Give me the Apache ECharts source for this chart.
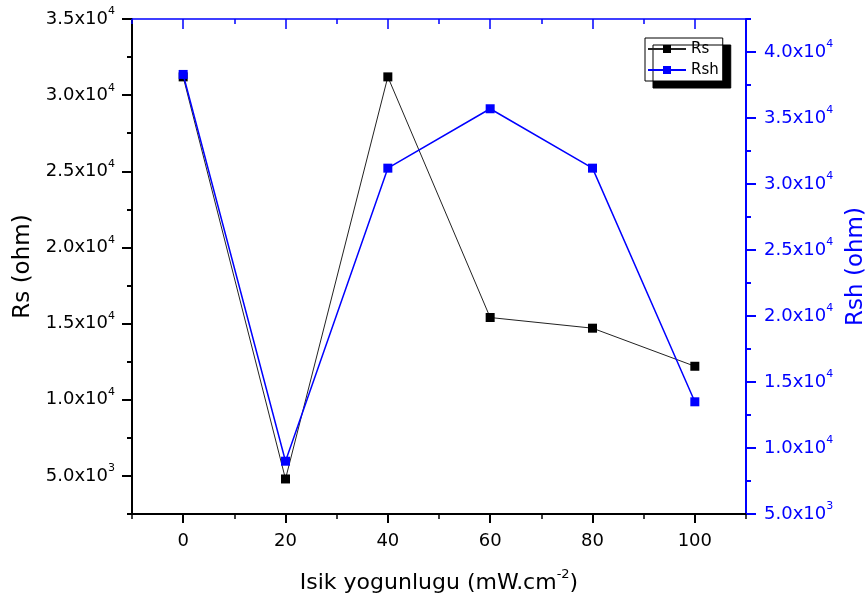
<!DOCTYPE html>
<html>
<head>
<meta charset="utf-8">
<script src="https://cdn.jsdelivr.net/npm/echarts@6/dist/echarts.min.js"></script>
<style>
html,body{margin:0;padding:0;background:#fff;}
#c{width:867px;height:599px;}
</style>
</head>
<body>
<div id="c"></div>
<script>
// ---- data ----
var xValues = [0, 20, 40, 60, 80, 100];
var rsValues = [31200, 4800, 31200, 15400, 14700, 12200];
var rshValues = [38300, 9000, 31200, 35700, 31200, 13500];
var seriesNames = ['Rs', 'Rsh'];
var xTicks = [0, 20, 40, 60, 80, 100];
var leftTicks = [5000, 10000, 15000, 20000, 25000, 30000, 35000];
var rightTicks = [5000, 10000, 15000, 20000, 25000, 30000, 35000, 40000];
var xTitle = 'Isik yogunlugu (mW.cm';
var xTitleSup = '-2';
var leftTitle = 'Rs (ohm)';
var rightTitle = 'Rsh (ohm)';

var FONT = 'DejaVu Sans';
var BLUE = '#0000ff';

function sciFmt(v) {
  var e = Math.floor(Math.log10(v));
  var m = (v / Math.pow(10, e)).toFixed(1);
  return '{b|' + m + 'x10}{s|' + e + '}';
}
function rich(color) {
  return {
    b: {fontSize: 18, fontFamily: FONT, color: color, lineHeight: 26},
    s: {fontSize: 11, fontFamily: FONT, color: color, lineHeight: 11, verticalAlign: 'top'}
  };
}

var chart = echarts.init(document.getElementById('c'), null, {renderer: 'canvas'});
var option = {
  animation: false,
  backgroundColor: '#fff',
  grid: {left: 132, right: 121, top: 19, bottom: 85, containLabel: false, outerBoundsMode: 'none'},
  legend: {
    data: seriesNames,
    orient: 'vertical',
    left: 645, top: 38,
    padding: [3, 4, 3, 2],
    itemWidth: 38, itemHeight: 10, itemGap: 5,
    backgroundColor: '#fff',
    borderColor: '#000', borderWidth: 1,
    shadowColor: '#000', shadowOffsetX: 8, shadowOffsetY: 7, shadowBlur: 0,
    textStyle: {fontFamily: FONT, fontSize: 15, color: '#000', lineHeight: 16},
    itemStyle: {opacity: 1}
  },
  xAxis: [
    { // bottom main
      type: 'value', position: 'bottom', min: -10, max: 110, interval: 10,
      axisLine: {onZero: false, lineStyle: {color: '#000', width: 2}},
      axisTick: {length: 9, lineStyle: {color: '#000', width: 2}, customValues: xTicks},
      axisLabel: {customValues: xTicks, margin: 18, fontFamily: FONT, fontSize: 18, color: '#000'},
      splitLine: {show: false},
      name: '{b|' + xTitle + '}{s|' + xTitleSup + '}{b|)}',
      nameLocation: 'middle', nameGap: 54,
      nameTextStyle: {
        rich: {
          b: {fontFamily: FONT, fontSize: 22, color: '#000', lineHeight: 30},
          s: {fontFamily: FONT, fontSize: 13, color: '#000', lineHeight: 13, verticalAlign: 'top'}
        }
      }
    },
    { // bottom minor ticks
      type: 'value', position: 'bottom', min: -10, max: 110, interval: 10,
      axisLine: {show: false, onZero: false},
      axisTick: {length: 5, lineStyle: {color: '#000', width: 1.5}},
      axisLabel: {show: false}, splitLine: {show: false}
    },
    { // top main
      type: 'value', position: 'top', min: -10, max: 110, interval: 10,
      axisLine: {onZero: false, lineStyle: {color: BLUE, width: 1.5}},
      axisTick: {inside: true, length: 10, lineStyle: {color: BLUE, width: 1.5}, customValues: xTicks},
      axisLabel: {show: false}, splitLine: {show: false}
    },
    { // top minor
      type: 'value', position: 'top', min: -10, max: 110, interval: 10,
      axisLine: {show: false, onZero: false},
      axisTick: {inside: true, length: 5, lineStyle: {color: BLUE, width: 1.5}},
      axisLabel: {show: false}, splitLine: {show: false}
    }
  ],
  yAxis: [
    { // left main
      type: 'value', position: 'left', min: 2500, max: 35000, interval: 2500,
      axisLine: {show: true, onZero: false, lineStyle: {color: '#000', width: 2}},
      axisTick: {show: true, length: 10, lineStyle: {color: '#000', width: 2}, customValues: leftTicks},
      axisLabel: {customValues: leftTicks, margin: 17, formatter: sciFmt, rich: rich('#000')},
      splitLine: {show: false},
      name: leftTitle, nameLocation: 'middle', nameRotate: 90, nameGap: 96,
      nameTextStyle: {fontFamily: FONT, fontSize: 23, color: '#000'}
    },
    { // left minor
      type: 'value', position: 'left', min: 2500, max: 35000, interval: 2500,
      axisLine: {show: false, onZero: false},
      axisTick: {show: true, length: 5, lineStyle: {color: '#000', width: 2}},
      axisLabel: {show: false}, splitLine: {show: false}
    },
    { // right main
      type: 'value', position: 'right', min: 5000, max: 42500, interval: 2500,
      axisLine: {show: true, onZero: false, lineStyle: {color: BLUE, width: 2}},
      axisTick: {show: true, length: 10, lineStyle: {color: BLUE, width: 2}, customValues: rightTicks},
      axisLabel: {customValues: rightTicks, margin: 18, formatter: sciFmt, rich: rich(BLUE)},
      splitLine: {show: false},
      name: rightTitle, nameLocation: 'middle', nameRotate: 90, nameGap: 96,
      nameTextStyle: {fontFamily: FONT, fontSize: 23, color: BLUE}
    },
    { // right minor
      type: 'value', position: 'right', min: 5000, max: 42500, interval: 2500,
      axisLine: {show: false, onZero: false},
      axisTick: {show: true, length: 5, lineStyle: {color: BLUE, width: 2}},
      axisLabel: {show: false}, splitLine: {show: false}
    }
  ],
  series: [
    {
      name: seriesNames[0], type: 'line', xAxisIndex: 0, yAxisIndex: 0,
      data: xValues.map(function (x, i) { return [x, rsValues[i]]; }),
      symbol: 'rect', symbolSize: 9,
      lineStyle: {color: '#222', width: 1},
      itemStyle: {color: '#000'},
      z: 3
    },
    {
      name: seriesNames[1], type: 'line', xAxisIndex: 0, yAxisIndex: 2,
      data: xValues.map(function (x, i) { return [x, rshValues[i]]; }),
      symbol: 'rect', symbolSize: 9,
      lineStyle: {color: BLUE, width: 1.5},
      itemStyle: {color: BLUE},
      z: 4
    }
  ]
};
chart.setOption(option);
</script>
</body>
</html>
